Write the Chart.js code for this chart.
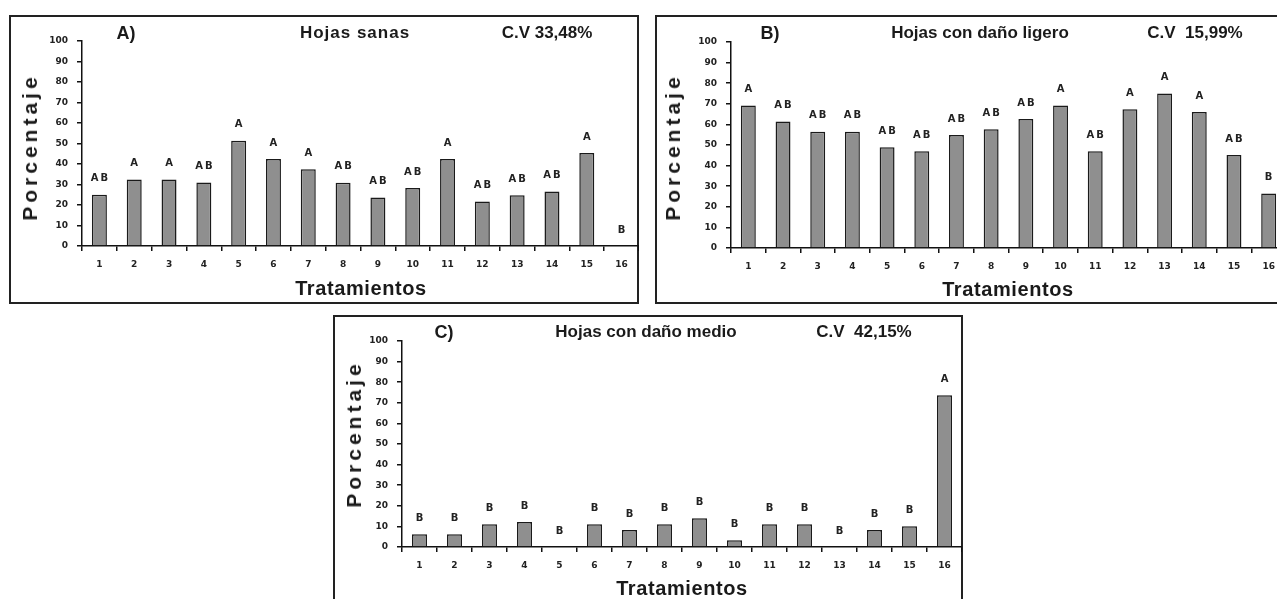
<!DOCTYPE html>
<html lang="es">
<head>
<meta charset="utf-8">
<title>Porcentaje de hojas por tratamiento</title>
<script src="https://cdn.jsdelivr.net/npm/chart.js@4.4.1/dist/chart.umd.min.js"></script>
<style>
    body {
        margin: 0;
        width: 1277px;
        height: 599px;
        overflow: hidden;
        position: relative;
        background: #fff;
        font-family: 'Liberation Sans', Arial, sans-serif;
        color: #1a1a1a;
    }
    .marco {
        position: absolute;
        box-sizing: border-box;
        border: 2px solid #222;
    }
    canvas {
        position: absolute;
    }
    .texto {
        position: absolute;
        transform: translate(-50%, -50%);
        font-weight: bold;
        white-space: pre;
    }
    .encabezado { font-size: 17px; }
    .letra-panel { font-size: 18px; }
    .eje-x { font-size: 20px; letter-spacing: 0.6px; }
    .eje-y {
        font-size: 21px;
        letter-spacing: 4px;
        transform: translate(-50%, -50%) rotate(-90deg);
    }
</style>
</head>
<body>

<!-- A) Hojas sanas -->
<div class="marco" style="left:9px; top:15px; width:630px; height:289px;"></div>
<canvas id="graficaSanas" width="630" height="289" style="left:9px; top:15px;"></canvas>
<div class="texto letra-panel" style="left:126px; top:33px;">A)</div>
<div class="texto encabezado" style="left:355px; top:33px; letter-spacing:1px;">Hojas sanas</div>
<div class="texto encabezado" style="left:547px; top:33px;">C.V 33,48%</div>
<div class="texto eje-y" style="left:30px; top:147px;">Porcentaje</div>
<div class="texto eje-x" style="left:361px; top:288px;">Tratamientos</div>

<!-- B) Hojas con daño ligero -->
<div class="marco" style="left:655px; top:15px; width:640px; height:289px;"></div>
<canvas id="graficaLigero" width="631" height="289" style="left:655px; top:15px;"></canvas>
<div class="texto letra-panel" style="left:770px; top:33px;">B)</div>
<div class="texto encabezado" style="left:980px; top:33px;">Hojas con daño ligero</div>
<div class="texto encabezado" style="left:1195px; top:33px;">C.V  15,99%</div>
<div class="texto eje-y" style="left:673px; top:147px;">Porcentaje</div>
<div class="texto eje-x" style="left:1008px; top:289px;">Tratamientos</div>

<!-- C) Hojas con daño medio -->
<div class="marco" style="left:333px; top:315px; width:630px; height:300px;"></div>
<canvas id="graficaMedio" width="629" height="289" style="left:333px; top:315px;"></canvas>
<div class="texto letra-panel" style="left:444px; top:332px;">C)</div>
<div class="texto encabezado" style="left:646px; top:332px;">Hojas con daño medio</div>
<div class="texto encabezado" style="left:864px; top:332px;">C.V  42,15%</div>
<div class="texto eje-y" style="left:354px; top:434px;">Porcentaje</div>
<div class="texto eje-x" style="left:682px; top:588px;">Tratamientos</div>

<script>
const tratamientos = ['1', '2', '3', '4', '5', '6', '7', '8', '9', '10', '11', '12', '13', '14', '15', '16'];

const valoresSanas = [25, 32.5, 32.5, 31, 51.3, 42.4, 37.5, 30.8, 23.7, 28.3, 42.4, 21.7, 24.8, 26.6, 45.4, 0];
const letrasSanas = ['AB', 'A', 'A', 'AB', 'A', 'A', 'A', 'AB', 'AB', 'AB', 'A', 'AB', 'AB', 'AB', 'A', 'B'];

const valoresLigero = [69.2, 61.4, 56.4, 56.4, 48.9, 47, 54.8, 57.7, 62.6, 69.2, 47, 67.4, 75, 66, 45.1, 26.5];
const letrasLigero = ['A', 'AB', 'AB', 'AB', 'AB', 'AB', 'AB', 'AB', 'AB', 'A', 'AB', 'A', 'A', 'A', 'AB', 'B'];

const valoresMedio = [6.2, 6.2, 11.1, 12.1, 0, 11.1, 8.2, 11.1, 14, 3.3, 11.1, 11.1, 0, 8.2, 10.1, 73.7];
const letrasMedio = ['B', 'B', 'B', 'B', 'B', 'B', 'B', 'B', 'B', 'B', 'B', 'B', 'B', 'B', 'B', 'A'];

Chart.defaults.font.family = "'DejaVu Sans', sans-serif";
Chart.defaults.color = '#222';

// letras de significancia encima de cada barra
const pluginLetras = {
    id: 'letrasBarras',
    afterDatasetsDraw(chart, args, opciones) {
        const letras = opciones.letras || [];
        const ctx = chart.ctx;
        const barras = chart.getDatasetMeta(0).data;
        ctx.save();
        ctx.font = 'bold 10px "DejaVu Sans", sans-serif';
        ctx.fillStyle = '#222';
        ctx.textAlign = 'center';
        ctx.textBaseline = 'middle';
        ctx.letterSpacing = '2px';
        barras.forEach((barra, i) => {
            if (!letras[i]) return;
            ctx.fillText(letras[i], barra.x + 1, barra.y - 16);
        });
        ctx.restore();
    }
};

function crearGrafica(idCanvas, valores, letras, medidas) {
    const ctx = document.getElementById(idCanvas);
    return new Chart(ctx, {
        type: 'bar',
        data: {
            labels: tratamientos,
            datasets: [{
                data: valores,
                backgroundColor: '#8f8f8f',
                borderColor: '#1a1a1a',
                borderWidth: 1.5,
                barPercentage: 0.43,
                categoryPercentage: 1
            }]
        },
        plugins: [pluginLetras],
        options: {
            responsive: false,
            animation: false,
            layout: { padding: { top: medidas.arriba, right: 0, bottom: 0, left: 0 } },
            plugins: {
                legend: { display: false },
                tooltip: { enabled: false },
                letrasBarras: { letras }
            },
            scales: {
                x: {
                    afterFit: (escala) => { escala.height = medidas.altoX; },
                    grid: { offset: true, drawOnChartArea: false, drawTicks: true, tickLength: 5, color: '#111', lineWidth: 1.5 },
                    border: { color: '#111', width: 1.5 },
                    ticks: { font: { size: 9, weight: 'bold' }, padding: 8, maxRotation: 0, autoSkip: false }
                },
                y: {
                    min: 0,
                    max: 100,
                    afterFit: (escala) => { escala.width = medidas.anchoY; },
                    grid: { drawOnChartArea: false, drawTicks: true, tickLength: 5, color: '#111', lineWidth: 1.5 },
                    border: { color: '#111', width: 1.5 },
                    ticks: { stepSize: 10, font: { size: 9, weight: 'bold' }, padding: 9 }
                }
            }
        }
    });
}

crearGrafica('graficaSanas', valoresSanas, letrasSanas, { anchoY: 73, altoX: 58, arriba: 26 });
crearGrafica('graficaLigero', valoresLigero, letrasLigero, { anchoY: 76, altoX: 56, arriba: 27 });
crearGrafica('graficaMedio', valoresMedio, letrasMedio, { anchoY: 69, altoX: 57, arriba: 26 });
</script>
</body>
</html>
